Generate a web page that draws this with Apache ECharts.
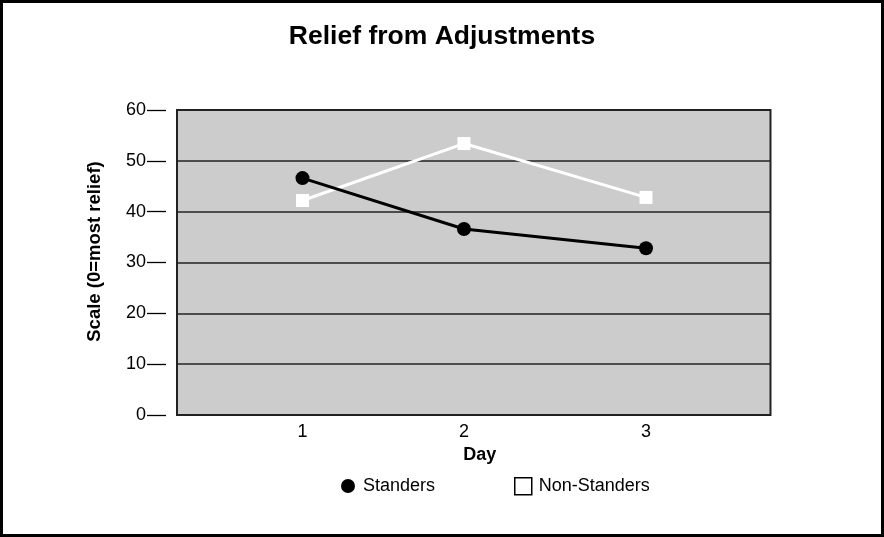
<!DOCTYPE html>
<html>
<head>
<meta charset="utf-8">
<script src="https://cdn.jsdelivr.net/npm/echarts@6/dist/echarts.min.js"></script>
<style>
html,body{margin:0;padding:0;background:#fff;}
#chart{width:884px;height:537px;}
</style>
</head>
<body>
<div id="chart"></div>
<script>
var dayLabels = ['1', '2', '3'];
var dayPos = [1, 2, 3.127];
var standers = [46.6, 36.6, 32.8];
var nonStanders = [42.2, 53.4, 42.8];
var yTicks = [0, 10, 20, 30, 40, 50, 60];

var FONT = "'Liberation Sans', Arial, Helvetica, sans-serif";
function pairs(xs, ys) { return ys.map(function (v, i) { return [xs[i], v]; }); }

var chart = echarts.init(document.getElementById('chart'), null, {renderer: 'canvas'});
chart.setOption({
  animation: false,
  backgroundColor: '#fff',
  textStyle: {fontFamily: FONT},
  title: {
    text: 'Relief from Adjustments',
    left: 'center',
    top: 18,
    textStyle: {fontFamily: FONT, fontSize: 26.5, fontWeight: 'bold', color: '#000'}
  },
  graphic: [{
    type: 'rect',
    shape: {x: 1.5, y: 1.5, width: 881, height: 534},
    style: {fill: 'none', stroke: '#000', lineWidth: 3},
    silent: true
  }],
  legend: [{
    left: 336, top: 472,
    itemWidth: 14, itemHeight: 14,
    textStyle: {fontFamily: FONT, fontSize: 18, color: '#000', padding: [0, 0, 0, 3]},
    data: [{name: 'Standers', icon: 'circle', itemStyle: {color: '#000'}}]
  }, {
    left: 509, top: 472,
    itemWidth: 17, itemHeight: 17,
    textStyle: {fontFamily: FONT, fontSize: 18, color: '#000', padding: [0, 0, 0, 2]},
    data: [{name: 'Non-Standers', icon: 'rect', itemStyle: {color: '#fff', borderColor: '#000', borderWidth: 1.5}}]
  }],
  grid: {
    left: 177, top: 110, right: 113.5, bottom: 122,
    show: true, backgroundColor: '#cccccc', borderColor: '#222', borderWidth: 2,
    containLabel: false
  },
  xAxis: {
    type: 'value',
    min: 0.223, max: 3.898,
    name: 'Day',
    nameLocation: 'middle',
    nameGap: 29,
    nameTextStyle: {fontFamily: FONT, fontSize: 18, fontWeight: 'bold', color: '#000', padding: [0, 0, 0, 12]},
    axisLine: {show: false},
    axisTick: {show: false},
    splitLine: {show: false},
    axisLabel: {
      customValues: dayPos,
      margin: 8,
      fontFamily: FONT, fontSize: 18, color: '#000',
      formatter: function (v) {
        for (var i = 0; i < dayPos.length; i++) { if (Math.abs(dayPos[i] - v) < 1e-6) return dayLabels[i]; }
        return '';
      }
    }
  },
  yAxis: {
    type: 'value',
    min: yTicks[0], max: yTicks[yTicks.length - 1], interval: 10,
    offset: 11,
    name: 'Scale (0=most relief)',
    nameLocation: 'middle',
    nameGap: 62,
    nameTextStyle: {fontFamily: FONT, fontSize: 18.5, fontWeight: 'bold', color: '#000', padding: [0, 0, 0, 22]},
    axisLine: {show: false},
    axisTick: {show: true, length: 19, lineStyle: {color: '#000', width: 1.3}},
    axisLabel: {margin: 20, fontFamily: FONT, fontSize: 18, color: '#000'},
    splitLine: {show: true, lineStyle: {color: '#222', width: 1.5}}
  },
  series: [{
    name: 'Standers',
    type: 'line',
    data: pairs(dayPos, standers),
    symbol: 'circle',
    symbolSize: 14,
    lineStyle: {color: '#000', width: 3},
    itemStyle: {color: '#000'},
    z: 3
  }, {
    name: 'Non-Standers',
    type: 'line',
    data: pairs(dayPos, nonStanders),
    symbol: 'rect',
    symbolSize: 13,
    lineStyle: {color: '#fff', width: 3},
    itemStyle: {color: '#fff'},
    z: 2
  }]
});
</script>
</body>
</html>
